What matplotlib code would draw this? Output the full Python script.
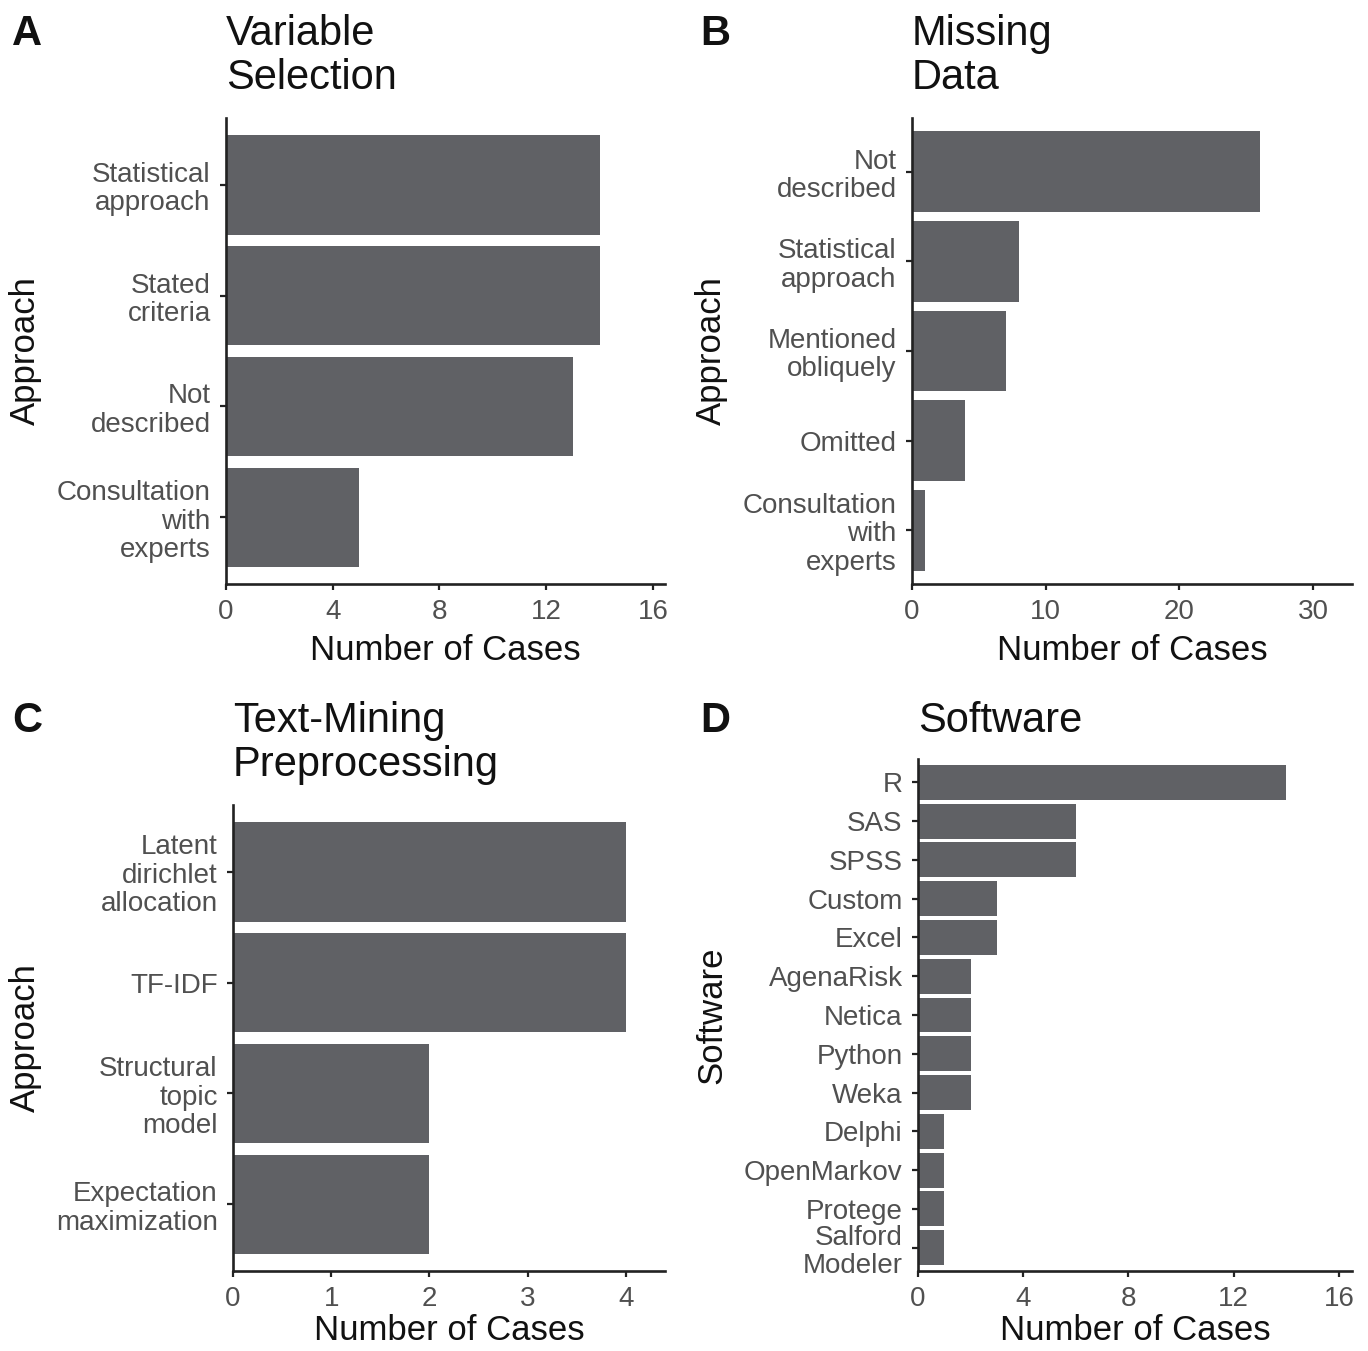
import matplotlib
matplotlib.use("Agg")
import matplotlib.pyplot as plt

plt.rcParams['font.family'] = ['Liberation Sans', 'DejaVu Sans']

# Panel A: variable selection
var_sel_labels = ["Statistical\napproach", "Stated\ncriteria", "Not\ndescribed",
                  "Consultation\nwith\nexperts"]
var_sel_counts = [14, 14, 13, 5]

# Panel B: missing data
missing_labels = ["Not\ndescribed", "Statistical\napproach", "Mentioned\nobliquely",
                  "Omitted", "Consultation\nwith\nexperts"]
missing_counts = [26, 8, 7, 4, 1]

# Panel C: text-mining preprocessing
text_labels = ["Latent\ndirichlet\nallocation", "TF-IDF", "Structural\ntopic\nmodel",
               "Expectation\nmaximization"]
text_counts = [4, 4, 2, 2]

# Panel D: software
software_labels = ["R", "SAS", "SPSS", "Custom", "Excel", "AgenaRisk", "Netica",
                   "Python", "Weka", "Delphi", "OpenMarkov", "Protege",
                   "Salford\nModeler"]
software_counts = [14, 6, 6, 3, 3, 2, 2, 2, 2, 1, 1, 1, 1]

W, H = 1368, 1351
fig = plt.figure(figsize=(W / 100, H / 100), dpi=100)

BAR = "#606165"
TICK_TXT = "#505050"
LINE = "#222222"
TXT = "#111111"


def panel(box, labels, counts, xmax, xticks, letter, title, ylabel,
          text_top, xlabel_top, ylabel_right, letter_x):
    l, r, t, b = box
    wpx, hpx = r - l, b - t
    ax = fig.add_axes([l / W, 1 - b / H, wpx / W, hpx / H])
    n = len(labels)
    pos = list(range(n))
    ax.barh(pos, counts, height=0.9, color=BAR, edgecolor="none")
    ax.set_ylim(n - 1 + 0.6, -0.6)
    ax.set_xlim(0, xmax)
    ax.set_xticks(xticks)
    ax.set_yticks(pos)
    ax.set_yticklabels(labels, linespacing=1.12)
    for s in ("top", "right"):
        ax.spines[s].set_visible(False)
    for s in ("left", "bottom"):
        ax.spines[s].set_linewidth(1.9)
        ax.spines[s].set_color(LINE)
    ax.tick_params(axis="both", length=4.5, width=1.6, color=LINE,
                   labelsize=20, labelcolor=TICK_TXT)
    ax.tick_params(axis="y", pad=6.5)
    ax.tick_params(axis="x", pad=6)
    ax.set_xlabel("Number of Cases", fontsize=25, color=TXT)
    ax.set_ylabel(ylabel, fontsize=25, color=TXT)
    ax.xaxis.set_label_coords(0.5, -(xlabel_top - b) / hpx)
    ax.yaxis.set_label_coords((ylabel_right - l) / wpx, 0.5)
    fig.text(letter_x / W, 1 - text_top / H, letter, fontsize=30,
             fontweight="bold", va="top", ha="left", color=TXT)
    fig.text(l / W, 1 - text_top / H, title, fontsize=30, va="top",
             ha="left", color=TXT, linespacing=1.12)
    return ax


panel((226, 665, 118, 584), var_sel_labels, var_sel_counts, 16.45,
      [0, 4, 8, 12, 16], "A", "Variable\nSelection", "Approach",
      text_top=14, xlabel_top=634, ylabel_right=42, letter_x=12)
panel((912, 1352, 118, 584), missing_labels, missing_counts, 32.9,
      [0, 10, 20, 30], "B", "Missing\nData", "Approach",
      text_top=14, xlabel_top=634, ylabel_right=728, letter_x=700)
panel((233, 665, 805, 1271), text_labels, text_counts, 4.4,
      [0, 1, 2, 3, 4], "C", "Text-Mining\nPreprocessing", "Approach",
      text_top=701, xlabel_top=1314, ylabel_right=42, letter_x=12)
panel((918, 1352, 759, 1271), software_labels, software_counts, 16.5,
      [0, 4, 8, 12, 16], "D", "Software", "Software",
      text_top=701, xlabel_top=1314, ylabel_right=728, letter_x=700)

fig.savefig("out.png", dpi=100)
